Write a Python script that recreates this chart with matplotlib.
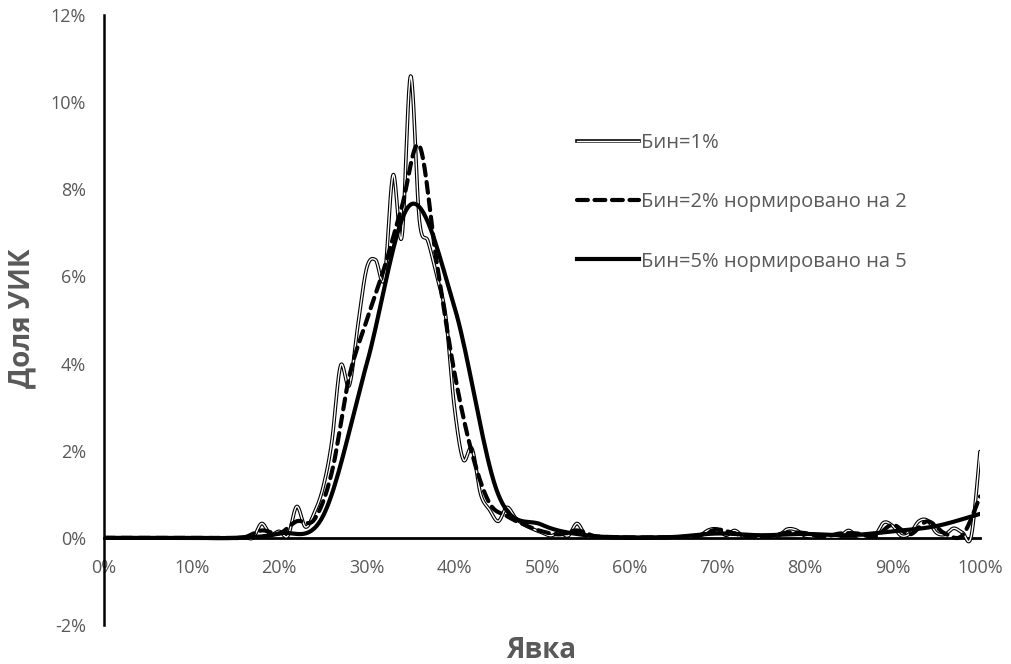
import numpy as np
import matplotlib
matplotlib.use('Agg')
import matplotlib.pyplot as plt
from matplotlib.lines import Line2D
from matplotlib.legend_handler import HandlerTuple

plt.rcParams['font.family'] = ['Open Sans', 'DejaVu Sans']

# Turnout bins (percent) and share of polling stations (percent)
x1 = list(range(0, 101))
bin1 = [0.0] * 16 + [
    0.02, 0.0, 0.33, 0.08, 0.15, 0.05, 0.72, 0.25, 0.57, 1.15,   # 16-25
    2.2, 3.95, 3.5, 4.9, 6.2, 6.38, 5.96, 8.33, 6.9, 10.6,       # 26-35
    7.3, 6.8, 6.0, 5.1, 3.0, 1.8, 2.05, 1.0, 0.65, 0.38,         # 36-45
    0.7, 0.45, 0.3, 0.2, 0.12, 0.05, 0.12, 0.05, 0.33, 0.05,     # 46-55
    0.03, 0.01, 0.01, 0.0, 0.0, 0.0, 0.01, 0.01, 0.01, 0.02,     # 56-65
    0.02, 0.03, 0.05, 0.18, 0.2, 0.06, 0.17, 0.03, 0.02, 0.02,   # 66-75
    0.03, 0.05, 0.2, 0.18, 0.05, 0.03, 0.02, 0.02, 0.03, 0.17,   # 76-85
    0.03, 0.02, 0.05, 0.35, 0.28, 0.05, 0.1, 0.38, 0.4, 0.12,    # 86-95
    0.08, 0.22, 0.12, 0.04, 1.98]                                # 96-100

x2 = list(range(0, 101, 2))
bin2 = [0.0] * 8 + [
    0.01, 0.17, 0.1, 0.38, 0.42, 1.5, 3.7, 5.0, 6.2, 7.6,        # 16-34
    9.0, 6.3, 3.8, 1.95, 0.8, 0.5, 0.3, 0.15, 0.08, 0.17,        # 36-54
    0.04, 0.02, 0.01, 0.01, 0.01, 0.02, 0.06, 0.19, 0.1, 0.02,   # 56-74
    0.04, 0.12, 0.11, 0.02, 0.1, 0.1, 0.03, 0.3, 0.08, 0.38,     # 76-94
    0.1, 0.06, 0.95]                                             # 96-100

x5 = list(range(0, 101, 5))
bin5 = [0.0, 0.0, 0.0, 0.0, 0.1, 0.5, 4.0, 7.65, 5.3, 1.0, 0.3,
        0.06, 0.01, 0.02, 0.1, 0.06, 0.09, 0.06, 0.15, 0.27, 0.55]

labels = ['Бин=1%', 'Бин=2% нормировано на 2', 'Бин=5% нормировано на 5']
xticks = list(range(0, 101, 10))
yticks = list(range(-2, 13, 2))

gray = '#595959'


def smooth(x, y, n=20):
    # Excel-style smoothed line: cubic bezier through the points
    x = np.asarray(x, float)
    y = np.asarray(y, float)
    px = np.concatenate([[x[0]], x, [x[-1]]])
    py = np.concatenate([[y[0]], y, [y[-1]]])
    t = np.linspace(0, 1, n, endpoint=False)[:, None]
    segs = []
    for i in range(len(x) - 1):
        p0 = np.array([px[i], py[i]])
        p1 = np.array([px[i + 1], py[i + 1]])
        p2 = np.array([px[i + 2], py[i + 2]])
        p3 = np.array([px[i + 3], py[i + 3]])
        c1 = p1 + (p2 - p0) / 6
        c2 = p2 - (p3 - p1) / 6
        b = ((1 - t) ** 3) * p1 + 3 * ((1 - t) ** 2) * t * c1 \
            + 3 * (1 - t) * t ** 2 * c2 + t ** 3 * p2
        segs.append(b)
    segs.append(np.array([[x[-1], y[-1]]]))
    pts = np.vstack(segs)
    return pts[:, 0], pts[:, 1]


fig = plt.figure(figsize=(10.12, 6.64), dpi=100)
ax = fig.add_axes([104 / 1012, 1 - 625 / 664, (980 - 104) / 1012, (625 - 15) / 664])

# Bin=1% as a double line (black outline, white core)
sx, sy = smooth(x1, bin1)
ax.plot(sx, sy, color='black', lw=2.6, solid_capstyle='round', zorder=3)
ax.plot(sx, sy, color='white', lw=1.0, solid_capstyle='round', zorder=3)

sx, sy = smooth(x2, bin2)
ax.plot(sx, sy, color='black', lw=3.0, dashes=(2.6, 1.6), dash_capstyle='round', zorder=4)

sx, sy = smooth(x5, bin5)
ax.plot(sx, sy, color='black', lw=3.0, solid_capstyle='round', zorder=5)

ax.set_xlim(0, 100)
ax.set_ylim(-2, 12)

for s in ['top', 'right']:
    ax.spines[s].set_visible(False)
ax.spines['bottom'].set_position(('data', 0))
ax.spines['bottom'].set_linewidth(2.0)
ax.spines['left'].set_linewidth(1.8)
ax.spines['bottom'].set_zorder(2)

ax.set_xticks(xticks)
ax.set_xticklabels([f'{v}%' for v in xticks])
ax.set_yticks(yticks)
ax.set_yticklabels([f'{v}%' for v in yticks])
ax.tick_params(axis='x', length=0, pad=15, labelsize=13, labelcolor=gray)
ax.tick_params(axis='y', length=0, pad=13, labelsize=13, labelcolor=gray)

fig.text(541 / 1012, 1 - 651 / 664, 'Явка', ha='center', va='center',
         fontsize=20, fontweight='bold', color=gray)
fig.text(22 / 1012, 1 - 318 / 664, 'Доля УИК', ha='center', va='center',
         rotation=90, fontsize=20, fontweight='bold', color=gray)

h1 = (Line2D([], [], color='black', lw=2.6), Line2D([], [], color='white', lw=1.0))
h2 = Line2D([], [], color='black', lw=3.0, dashes=(2.6, 1.6), dash_capstyle='round')
h3 = Line2D([], [], color='black', lw=3.0)
leg = ax.legend([h1, h2, h3], labels, handler_map={tuple: HandlerTuple(ndivide=1, pad=0)},
                loc='upper left', bbox_to_anchor=(577 / 1012, 1 - 133 / 664),
                bbox_transform=fig.transFigure, frameon=False, fontsize=14.5,
                labelspacing=1.95, handlelength=3.1, handletextpad=0.1,
                borderpad=0, borderaxespad=0)
for t in leg.get_texts():
    t.set_color(gray)

fig.savefig('out.png', dpi=100)
